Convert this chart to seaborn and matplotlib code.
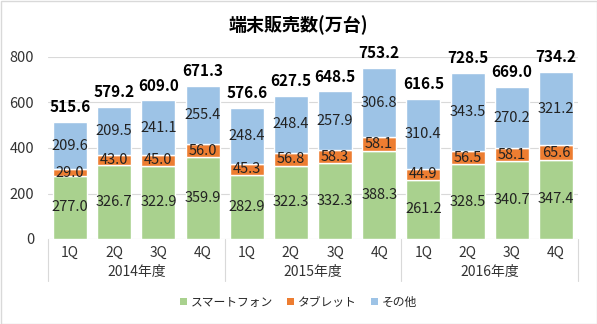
import matplotlib
matplotlib.use("Agg")
import matplotlib.pyplot as plt
import seaborn as sns
import pandas as pd
import numpy as np
from matplotlib.transforms import blended_transform_factory
from matplotlib.patches import Patch, Rectangle

sns.set_theme(style="white")
plt.rcParams['font.family'] = ['Noto Sans CJK JP', 'DejaVu Sans']

years = ["2014年度", "2015年度", "2016年度"]
quarters = ["1Q", "2Q", "3Q", "4Q"]
smartphone = [277.0, 326.7, 322.9, 359.9, 282.9, 322.3, 332.3, 388.3, 261.2, 328.5, 340.7, 347.4]
tablet = [29.0, 43.0, 45.0, 56.0, 45.3, 56.8, 58.3, 58.1, 44.9, 56.5, 58.1, 65.6]
other = [209.6, 209.5, 241.1, 255.4, 248.4, 248.4, 257.9, 306.8, 310.4, 343.5, 270.2, 321.2]
totals = [515.6, 579.2, 609.0, 671.3, 576.6, 627.5, 648.5, 753.2, 616.5, 728.5, 669.0, 734.2]
series_names = ["スマートフォン", "タブレット", "その他"]
colors = ["#A9D18E", "#ED7D31", "#9DC3E6"]

keys = [f"{y}-{q}" for y in years for q in quarters]
df = pd.DataFrame({"key": keys, "sp": smartphone, "tb": tablet, "ot": other, "total": totals})
df["b1"] = df["sp"]
df["b2"] = df["sp"] + df["tb"]

fig = plt.figure(figsize=(5.97, 3.24), dpi=100)
ax = fig.add_axes([48/597, 1-239/324, 530/597, 182/324])

w = 0.77
sns.barplot(data=df, x="key", y="sp", color=colors[0], width=w, ax=ax, saturation=1, order=keys)
sns.barplot(data=df, x="key", y="tb", bottom=df["b1"], color=colors[1], width=w, ax=ax, saturation=1, order=keys)
sns.barplot(data=df, x="key", y="ot", bottom=df["b2"], color=colors[2], width=w, ax=ax, saturation=1, order=keys)

lab_fs = 10.5
for i in range(len(keys)):
    ax.text(i, smartphone[i]/2, f"{smartphone[i]:.1f}", ha="center", va="center", fontsize=lab_fs, color="#222222")
    ax.text(i, df["b1"][i] + tablet[i]/2, f"{tablet[i]:.1f}", ha="center", va="center", fontsize=lab_fs, color="#222222")
    ax.text(i, df["b2"][i] + other[i]/2, f"{other[i]:.1f}", ha="center", va="center", fontsize=lab_fs, color="#222222")
    ax.annotate(f"{totals[i]:.1f}", (i, totals[i]), xytext=(0, 5), textcoords="offset points",
                ha="center", va="bottom", fontsize=11, fontweight="bold", color="black")

ax.set_xlim(-0.5, 11.5)
ax.set_ylim(0, 800)
ax.set_yticks([0, 200, 400, 600, 800])
ax.set_yticklabels(["0", "200", "400", "600", "800"], fontsize=10.5, color="#333333")
ax.tick_params(axis="y", length=0, pad=10)
ax.yaxis.grid(True, color="#D9D9D9", linewidth=0.8)
ax.set_axisbelow(True)
for s in ax.spines.values():
    s.set_visible(False)
ax.set_xlabel("")
ax.set_ylabel("")
ax.set_xticks(range(12))
ax.set_xticklabels([])
ax.tick_params(axis="x", length=0)

trans = blended_transform_factory(ax.transData, ax.transAxes)
for i in range(12):
    ax.text(i, -14/182, quarters[i % 4], transform=trans, ha="center", va="center", fontsize=10, color="#333333")
for g in range(3):
    ax.text(g*4 + 1.5, -33/182, years[g], transform=trans, ha="center", va="center", fontsize=10, color="#333333")
for xs in [-0.5, 3.5, 7.5, 11.5]:
    ax.plot([xs, xs], [0, -42/182], transform=trans, color="#D9D9D9", linewidth=0.8, clip_on=False)

fig.text(0.5, 1-25/324, "端末販売数(万台)", ha="center", va="center", fontsize=13, fontweight="bold", color="black")

handles = [Patch(facecolor=c, edgecolor="none") for c in colors]
fig.legend(handles, series_names, loc="center", bbox_to_anchor=(0.5, 1-302/324), ncol=3, frameon=False,
           fontsize=8.5, handlelength=0.6, handleheight=0.6, handletextpad=0.3, columnspacing=1.2)

fig.patches.append(Rectangle((0.5/597, 0.5/324), 1-1/597, 1-1/324, transform=fig.transFigure,
                             fill=False, edgecolor="#D9D9D9", linewidth=1))

fig.savefig("out.png", dpi=100)
